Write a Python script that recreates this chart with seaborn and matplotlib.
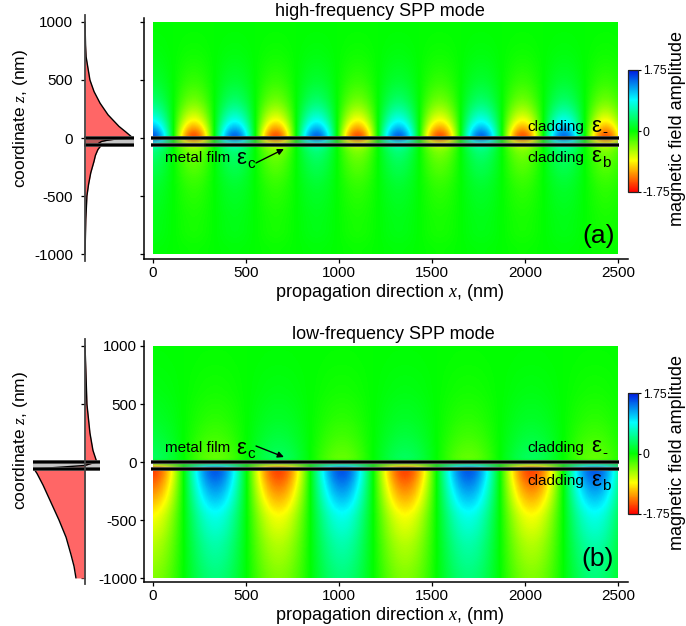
import numpy as np
import matplotlib
matplotlib.use('Agg')
import matplotlib.pyplot as plt
from matplotlib.colors import LinearSegmentedColormap
from matplotlib.patches import Rectangle
import seaborn as sns

W, H = 686, 626

# field along x, sampled every 55 nm
wave_x = np.arange(0, 2531, 55)
wave_a = [1.6, 1.13, 0.0, -1.13, -1.6, -1.13, 0.0, 1.13,
          1.6, 1.13, 0.0, -1.13, -1.6, -1.13, 0.0, 1.13,
          1.6, 1.13, 0.0, -1.13, -1.6, -1.13, 0.0, 1.13,
          1.6, 1.15, 0.05, -1.1, -1.58, -1.18, -0.1, 1.05,
          1.58, 1.2, 0.15, -1.0, -1.58, -1.22, -0.2, 0.95,
          1.55, 1.25, 0.25, -0.85, -1.55, -1.3, -0.35]
wave_b = [-1.65, -1.40, -0.80, 0.0, 0.80, 1.40, 1.65, 1.48, 0.93, 0.15,
          -0.67, -1.32, -1.63, -1.54, -1.06, -0.32, 0.51, 1.22, 1.62, 1.62,
          1.17, 0.41, -0.37, -1.10, -1.56, -1.62, -1.27, -0.60, 0.23, 0.99,
          1.51, 1.64, 1.37, 0.74, -0.07, -0.87, -1.44, -1.65, -1.44, -0.87,
          -0.09, 0.74, 1.36, 1.64, 1.51, 0.99, 0.23]

# how strong that pattern is at each height, 1000 down to -1000 nm in 50 nm rows
decay_z = np.arange(1000, -1001, -50)
decay_a = [0.0, 0.005, 0.01, 0.015, 0.02, 0.03, 0.04, 0.055, 0.07, 0.09,
           0.11, 0.14, 0.18, 0.22, 0.28, 0.36, 0.46, 0.58, 0.74, 0.92,
           1.08, 0.55, 0.30, 0.26, 0.22, 0.19, 0.17, 0.14, 0.12, 0.10,
           0.09, 0.08, 0.07, 0.06, 0.055, 0.05, 0.05, 0.04, 0.03, 0.02, 0.02]
decay_b = [-0.005, -0.01, -0.012, -0.015, -0.02, -0.025, -0.03, -0.035, -0.04, -0.05,
           -0.06, -0.07, -0.08, -0.09, -0.11, -0.12, -0.14, -0.16, -0.18, -0.2,
           -0.22, 0.95, 0.95, 0.9, 0.84, 0.78, 0.72, 0.66, 0.6, 0.54,
           0.5, 0.47, 0.44, 0.41, 0.38, 0.36, 0.34, 0.32, 0.3, 0.28, 0.27]

# side profiles of the field magnitude
prof_a_top_z = [1000, 800, 700, 600, 500, 400, 300, 200, 100, 50, 0]
prof_a_top = [0.0, 0.02, 0.04, 0.11, 0.18, 0.33, 0.55, 0.84, 1.24, 1.5, 1.75]
prof_a_film_z = [0, -10, -20, -30, -45, -60]
prof_a_film = [1.75, 1.1, 0.8, 0.6, 0.5, 0.47]
prof_a_bot_z = [-60, -100, -150, -200, -300, -400, -500, -700, -1000]
prof_a_bot = [0.6, 0.47, 0.38, 0.33, 0.21, 0.13, 0.07, 0.03, 0.0]

prof_b_top_z = [1000, 800, 500, 250, 100, 0]
prof_b_top = [0.0, 0.03, 0.07, 0.18, 0.29, 0.43]
prof_b_film_z = [0, -15, -30, -45, -60]
prof_b_film = [0.43, 0.2, 0.0, -0.9, -1.86]
prof_b_bot_z = [-60, -100, -200, -350, -500, -650, -800, -900, -1000]
prof_b_bot = [-1.86, -1.75, -1.53, -1.24, -0.95, -0.69, -0.51, -0.40, -0.33]

z_ticks = [-1000, -500, 0, 500, 1000]
x_ticks = [0, 500, 1000, 1500, 2000, 2500]
film_z = [0, -60]
field_max = 1.75

sns.set_theme(style='ticks')
plt.rcParams['font.family'] = ['Liberation Sans', 'DejaVu Sans']
plt.rcParams['mathtext.fontset'] = 'custom'
plt.rcParams['mathtext.it'] = 'Liberation Serif:italic'
plt.rcParams['mathtext.rm'] = 'Liberation Sans'
plt.rcParams['axes.unicode_minus'] = False

field_cmap = LinearSegmentedColormap.from_list('field', [
    (0.0, '#ff0000'), (0.257, '#ffff00'), (0.5, '#00ff00'),
    (0.757, '#00ffff'), (1.0, '#0018e0')])

fig = plt.figure(figsize=(W / 100, H / 100), dpi=100)


def add_axes_px(x0, y0, x1, y1):
    return fig.add_axes([x0 / W, 1 - y1 / H, (x1 - x0) / W, (y1 - y0) / H])


def text_px(x, y, s, **kw):
    kw.setdefault('va', 'center')
    kw.setdefault('color', 'black')
    fig.text(x / W, 1 - y / H, s, **kw)


def draw_film(ax, x0, x1):
    ax.hlines(film_z, x0, x1, color='#555555', lw=2.7, zorder=5)
    ax.hlines(film_z, x0, x1, color='black', lw=1.7, zorder=6)


def field_panel(box, wave, decay):
    ax = add_axes_px(*box)
    field = np.outer(decay, wave)
    dx, dz = 55, 50
    im = ax.imshow(field, cmap=field_cmap, vmin=-field_max, vmax=field_max,
                   interpolation='bicubic', aspect='auto',
                   extent=(-dx / 2, wave_x[-1] + dx / 2, -1000 - dz / 2, 1000 + dz / 2))
    im.set_clip_path(Rectangle((0, -1000), 2500, 2000, transform=ax.transData))
    ax.axhspan(film_z[1], film_z[0], xmin=(0 - X_LIM[0]) / (X_LIM[1] - X_LIM[0]),
               xmax=(2500 - X_LIM[0]) / (X_LIM[1] - X_LIM[0]), color='#777777', alpha=0.35, lw=0)
    draw_film(ax, -12, 2505)
    ax.set_xlim(*X_LIM)
    ax.set_xticks(x_ticks)
    ax.set_yticks(z_ticks)
    sns.despine(ax=ax)
    for side in ['left', 'bottom']:
        ax.spines[side].set_linewidth(1.1)
        ax.spines[side].set_color('black')
    ax.tick_params(length=3, width=0.9, labelsize=11, pad=2, colors='black')
    ax.tick_params(axis='x', pad=2.2)
    ax.grid(False)
    return ax, im


def profile_strip(box, ylim, top, film, bot, band):
    ax = add_axes_px(*box)
    ax.set_xlim(-65 / 27.4, 55 / 27.4)
    ax.set_ylim(*ylim)
    ax.fill_betweenx(band[0], band[1], band[2], color='#c6c6c6', lw=0, zorder=1)
    for (zz, amp), col in zip([top, film, bot], ['#ff6666', '#b85a5a', '#ff6666']):
        ax.fill_betweenx(zz, 0, amp, color=col, lw=0, zorder=2)
        sns.lineplot(x=amp, y=zz, orient='y', sort=False, estimator=None,
                     color='black', lw=1.0, ax=ax, zorder=3)
    draw_film(ax, band[1], band[2])
    sns.despine(ax=ax, bottom=True)
    ax.spines['left'].set_position(('data', 0))
    ax.spines['left'].set_linewidth(1.3)
    ax.spines['left'].set_color('#444444')
    ax.spines['left'].set_zorder(7)
    ax.set_xticks([])
    ax.set_yticks(z_ticks)
    ax.tick_params(axis='y', length=3, width=0.9, labelsize=11, pad=5.5, colors='black')
    ax.patch.set_alpha(0)
    ax.grid(False)
    ax.set_xlabel('')
    ax.set_ylabel('')
    return ax


def colorbar_px(im, y0, y1):
    cax = add_axes_px(628, y0, 638, y1)
    cb = fig.colorbar(im, cax=cax, ticks=[-field_max, 0, field_max])
    cb.ax.set_yticklabels(['-1.75', '0', '1.75'])
    cb.ax.tick_params(length=2, width=0.8, labelsize=8.8, pad=1.5, colors='black')
    cb.outline.set_linewidth(0.9)
    cb.outline.set_edgecolor('#222222')


def film_labels(ax, metal_y, arrow_tail, arrow_tip, up_y, low_y, up_sub):
    text_px(165, metal_y, 'metal film', fontsize=11)
    text_px(236, metal_y, 'ε', fontsize=16)
    text_px(247, metal_y + 6, 'c', fontsize=11)
    ax.annotate('', xy=arrow_tip, xytext=arrow_tail, zorder=8,
                arrowprops=dict(arrowstyle='-|>', color='black', lw=1.0, shrinkA=0, shrinkB=0,
                                mutation_scale=9))
    text_px(527, up_y, 'cladding', fontsize=11)
    text_px(591, up_y - 1, 'ε', fontsize=16)
    text_px(602, up_y + 5, up_sub, fontsize=11)
    text_px(527, low_y, 'cladding', fontsize=11)
    text_px(591, low_y - 1, 'ε', fontsize=16)
    text_px(602, low_y + 5, 'b', fontsize=11)


X_LIM = (-48.4, 2553.8)

# panel (a)
ax_a, im_a = field_panel((144, 18, 628, 259), wave_a, decay_a)
ax_a.set_ylim(-1043, 1034)
ax_a.set_yticklabels([])
strip_a = profile_strip((20, 15, 140, 261), (-1060, 1060),
                        (prof_a_top_z, prof_a_top), (prof_a_film_z, prof_a_film),
                        (prof_a_bot_z, prof_a_bot), (film_z, -0.04, 1.78))
colorbar_px(im_a, 70, 192)
film_labels(ax_a, 158, (554, -215), (704, -95), 127, 158, '-')
text_px(275, 11, 'high-frequency SPP mode', fontsize=13)
text_px(275, 292, 'propagation direction $\\mathit{x}$, (nm)', fontsize=13)
text_px(21, 118, 'coordinate $\\mathit{z}$, (nm)', fontsize=12.5, rotation=90, ha='center')
text_px(677, 129, 'magnetic field amplitude', fontsize=13, rotation=90, ha='center')
text_px(582, 236, '(a)', fontsize=19)

# panel (b)
ax_b, im_b = field_panel((144, 341, 628, 582), wave_b, decay_b)
ax_b.set_ylim(-1034, 1043)
strip_b = profile_strip((20, 339, 140, 584), (-1052, 1060),
                        (prof_b_top_z, prof_b_top), (prof_b_film_z, prof_b_film),
                        (prof_b_bot_z, prof_b_bot), (film_z, -1.9, 0.55))
strip_b.set_yticklabels([])
colorbar_px(im_b, 393, 514)
film_labels(ax_b, 448, (554, 138), (704, 43), 448, 481, '-')
text_px(292, 334, 'low-frequency SPP mode', fontsize=13)
text_px(275, 615, 'propagation direction $\\mathit{x}$, (nm)', fontsize=13)
text_px(21, 440, 'coordinate $\\mathit{z}$, (nm)', fontsize=12.5, rotation=90, ha='center')
text_px(677, 452, 'magnetic field amplitude', fontsize=13, rotation=90, ha='center')
text_px(581, 559, '(b)', fontsize=19)

fig.savefig('out.png', dpi=100)
